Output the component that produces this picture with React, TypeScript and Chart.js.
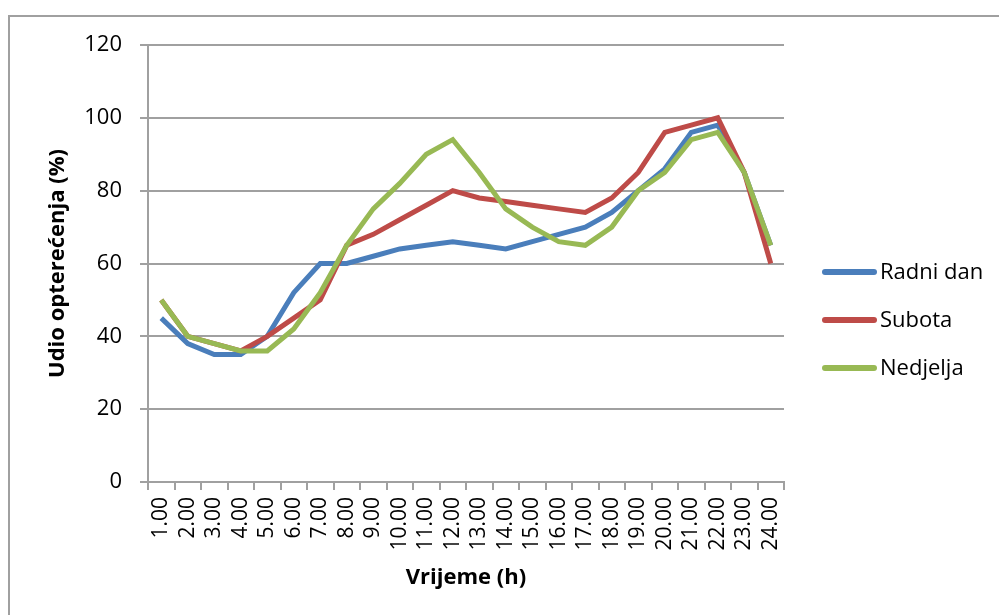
import { useEffect, useRef } from 'react';
import Chart from 'chart.js/auto';

// Vrijeme (h) – kategorije na osi x
const sati = [
	'1.00', '2.00', '3.00', '4.00', '5.00', '6.00', '7.00', '8.00',
	'9.00', '10.00', '11.00', '12.00', '13.00', '14.00', '15.00', '16.00',
	'17.00', '18.00', '19.00', '20.00', '21.00', '22.00', '23.00', '24.00',
];

// Udio opterećenja (%) po satima
const radniDan = [45, 38, 35, 35, 40, 52, 60, 60, 62, 64, 65, 66, 65, 64, 66, 68, 70, 74, 80, 86, 96, 98, 85, 65];
const subota = [50, 40, 38, 36, 40, 45, 50, 65, 68, 72, 76, 80, 78, 77, 76, 75, 74, 78, 85, 96, 98, 100, 85, 60];
const nedjelja = [50, 40, 38, 36, 36, 42, 52, 65, 75, 82, 90, 94, 85, 75, 70, 66, 65, 70, 80, 85, 94, 96, 85, 65];

const yMin = 0;
const yMax = 120;
const yStep = 20;

const FONT = "'Open Sans', sans-serif";
const GRID = '#a0a0a0';

// legenda desno od grafikona, kao u Excelu
const sideLegend = {
	id: 'sideLegend',
	afterDraw(chart: Chart) {
		const { ctx, chartArea } = chart;
		const x0 = chartArea.right + 41;
		const rowGap = 48;
		const firstY = 272;
		ctx.save();
		ctx.font = `22px ${FONT}`;
		ctx.textBaseline = 'middle';
		ctx.textAlign = 'left';
		chart.data.datasets.forEach((ds, i) => {
			const y = firstY + i * rowGap;
			ctx.strokeStyle = ds.borderColor as string;
			ctx.lineWidth = 6;
			ctx.lineCap = 'round';
			ctx.beginPath();
			ctx.moveTo(x0, y);
			ctx.lineTo(x0 + 49, y);
			ctx.stroke();
			ctx.fillStyle = '#000';
			ctx.fillText(ds.label ?? '', x0 + 55, y + 1);
		});
		ctx.restore();
	},
};

function LoadChart() {
	const canvasRef = useRef<HTMLCanvasElement>(null);
	const chartRef = useRef<Chart | null>(null);

	useEffect(() => {
		if (!canvasRef.current) return;
		if (chartRef.current) chartRef.current.destroy();

		const line = (label: string, data: number[], color: string, order: number) => ({
			label,
			data,
			borderColor: color,
			backgroundColor: color,
			borderWidth: 5,
			pointRadius: 0,
			tension: 0,
			order,
		});

		chartRef.current = new Chart(canvasRef.current, {
			type: 'line',
			data: {
				labels: sati,
				datasets: [
					line('Radni dan', radniDan, '#4a7ebb', 2),
					line('Subota', subota, '#be4b48', 1),
					line('Nedjelja', nedjelja, '#98b954', 0),
				],
			},
			plugins: [sideLegend],
			options: {
				responsive: false,
				animation: false,
				layout: { padding: { left: 42, top: 45, right: 215, bottom: 20 } },
				font: { family: FONT },
				plugins: {
					tooltip: { enabled: false },
					legend: { display: false },
				},
				scales: {
					x: {
						offset: true,
						grid: {
							drawOnChartArea: false,
							offset: true,
							tickLength: 8,
							color: GRID,
							lineWidth: 2,
						},
						border: { color: GRID, width: 2 },
						ticks: {
							color: '#000',
							font: { family: FONT, size: 21 },
							minRotation: 90,
							maxRotation: 90,
							autoSkip: false,
							padding: 7,
						},
						title: {
							display: true,
							text: 'Vrijeme (h)',
							color: '#000',
							font: { family: FONT, size: 22, weight: 'bold' },
							padding: { top: 8, bottom: 4 },
						},
						afterFit: (scale) => {
							scale.height = 113;
						},
					},
					y: {
						min: yMin,
						max: yMax,
						grid: { color: GRID, lineWidth: 2, tickLength: 8 },
						border: { color: GRID, width: 2 },
						ticks: {
							stepSize: yStep,
							color: '#000',
							font: { family: FONT, size: 22 },
							padding: 18,
						},
						title: {
							display: true,
							text: 'Udio opterećenja (%)',
							color: '#000',
							font: { family: FONT, size: 22, weight: 'bold' },
							padding: { top: 3, bottom: 0 },
						},
						afterFit: (scale) => {
							scale.width = 106;
						},
					},
				},
			},
		});

		return () => {
			if (chartRef.current) {
				chartRef.current.destroy();
				chartRef.current = null;
			}
		};
	}, []);

	return <canvas ref={canvasRef} width={999} height={615} style={{ display: 'block', position: 'absolute', left: 0, top: 0 }} />;
}

export default function App() {
	return (
		<div
			style={{
				position: 'fixed',
				left: 0,
				top: 0,
				width: 999,
				height: 615,
				overflow: 'hidden',
				background: '#fff',
			}}
		>
			{/* okvir grafikona */}
			<div
				style={{
					position: 'absolute',
					left: 8,
					top: 15,
					width: 1200,
					height: 800,
					borderLeft: `2px solid ${GRID}`,
					borderTop: `2px solid ${GRID}`,
				}}
			/>
			<LoadChart />
		</div>
	);
}
